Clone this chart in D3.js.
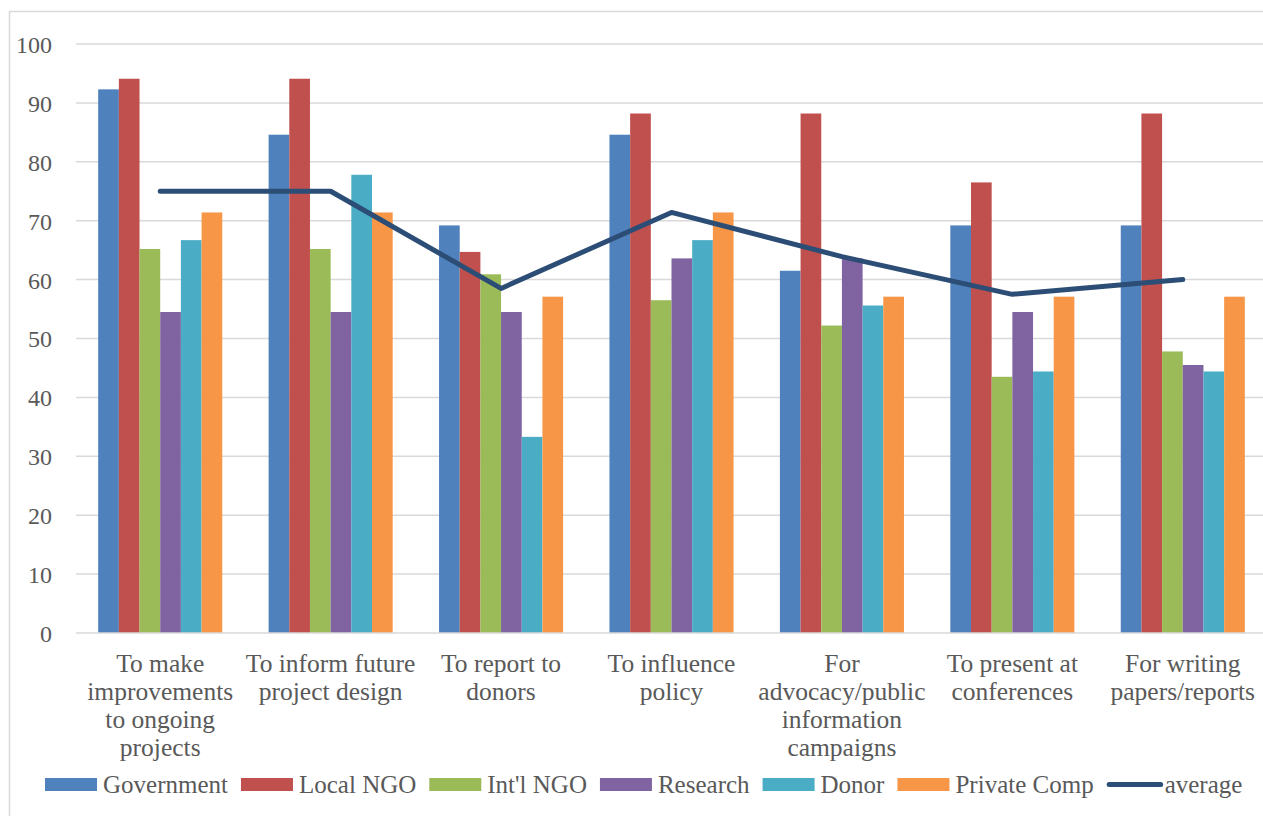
<!DOCTYPE html>
<html>
<head>
<meta charset="utf-8">
<script src="https://cdn.jsdelivr.net/npm/d3@7/dist/d3.min.js"></script>
<style>
  html, body { margin: 0; padding: 0; background: #fff; }
  svg { display: block; }
  text { font-family: "Liberation Serif", "DejaVu Serif", serif; fill: #595959; }
</style>
</head>
<body>
<svg id="chart" width="1263" height="816"></svg>
<script>
// Purposes for which findings are used
const categories = [
  "To make improvements to ongoing projects",
  "To inform future project design",
  "To report to donors",
  "To influence policy",
  "For advocacy/public information campaigns",
  "To present at conferences",
  "For writing papers/reports"
];
// Wrapped label lines for each category
const categoryLines = [
  ["To make", "improvements", "to ongoing", "projects"],
  ["To inform future", "project design"],
  ["To report to", "donors"],
  ["To influence", "policy"],
  ["For", "advocacy/public", "information", "campaigns"],
  ["To present at", "conferences"],
  ["For writing", "papers/reports"]
];

const seriesNames = ["Government", "Local NGO", "Int'l NGO", "Research", "Donor", "Private Comp"];
const seriesColors = ["#4F81BD", "#C0504D", "#9BBB59", "#8064A2", "#4BACC6", "#F79646"];

// Percent of respondents per organisation type
const government = [92.3, 84.6, 69.2, 84.6, 61.5, 69.2, 69.2];
const localNGO   = [94.1, 94.1, 64.7, 88.2, 88.2, 76.5, 88.2];
const intlNGO    = [65.2, 65.2, 60.9, 56.5, 52.2, 43.5, 47.8];
const research   = [54.5, 54.5, 54.5, 63.6, 63.6, 54.5, 45.5];
const donor      = [66.7, 77.8, 33.3, 66.7, 55.6, 44.4, 44.4];
const privateComp= [71.4, 71.4, 57.1, 71.4, 57.1, 57.1, 57.1];
const average    = [75.0, 75.0, 58.5, 71.4, 63.9, 57.5, 60.0];

const yTicks = [0, 10, 20, 30, 40, 50, 60, 70, 80, 90, 100];

const seriesValues = [government, localNGO, intlNGO, research, donor, privateComp];
const lineColor = "#2C4D75";

const svg = d3.select("#chart");

// outer chart frame
svg.append("rect")
  .attr("x", 9.5).attr("y", 11.5)
  .attr("width", 1300).attr("height", 900)
  .attr("fill", "none").attr("stroke", "#d9d9d9").attr("stroke-width", 1.5);

const plot = { left: 75, right: 1268, top: 44, bottom: 633 };

const x = d3.scaleBand().domain(categories).range([plot.left, plot.right]).padding(0);
const y = d3.scaleLinear().domain([0, 100]).range([plot.bottom, plot.top]);

const groupWidth = x.bandwidth() * 0.728;
const xs = d3.scaleBand().domain(seriesNames).range([0, groupWidth]).padding(0);

// gridlines
svg.append("g").selectAll("line")
  .data(yTicks.filter(t => t > 0))
  .join("line")
  .attr("x1", plot.left + 1).attr("x2", 1300)
  .attr("y1", d => y(d)).attr("y2", d => y(d))
  .attr("stroke", "#d9d9d9").attr("stroke-width", 1.5);

// y axis labels
const yAxis = d3.axisLeft(y).tickValues(yTicks).tickSize(0).tickPadding(0);
const yg = svg.append("g").attr("transform", `translate(52,0)`).call(yAxis);
yg.select(".domain").remove();
yg.selectAll("text")
  .attr("font-size", 24)
  .attr("font-family", null)
  .attr("fill", "#595959")
  .attr("dy", "0.35em");

// bars
const groups = svg.append("g").selectAll("g")
  .data(categories)
  .join("g")
  .attr("transform", d => `translate(${x(d) + (x.bandwidth() - groupWidth) / 2},0)`);

groups.selectAll("rect")
  .data((d, i) => seriesNames.map((s, j) => ({ s, j, v: seriesValues[j][i] })))
  .join("rect")
  .attr("x", d => xs(d.s))
  .attr("width", xs.bandwidth())
  .attr("y", d => y(d.v))
  .attr("height", d => y(0) - y(d.v))
  .attr("fill", d => seriesColors[d.j]);

// category axis line
svg.append("line")
  .attr("x1", plot.left + 1).attr("x2", 1300)
  .attr("y1", y(0)).attr("y2", y(0))
  .attr("stroke", "#d9d9d9").attr("stroke-width", 1.5);

// average line
const line = d3.line()
  .x((d, i) => x(categories[i]) + x.bandwidth() / 2)
  .y(d => y(d));
svg.append("path")
  .datum(average)
  .attr("d", line)
  .attr("fill", "none")
  .attr("stroke", lineColor)
  .attr("stroke-width", 5)
  .attr("stroke-linejoin", "round")
  .attr("stroke-linecap", "round");

// category labels
const catLabels = svg.append("g").selectAll("text")
  .data(categories)
  .join("text")
  .attr("text-anchor", "middle")
  .attr("font-size", 25.5)
  .attr("x", d => x(d) + x.bandwidth() / 2)
  .attr("y", 672);
catLabels.each(function (d, i) {
  d3.select(this).selectAll("tspan")
    .data(categoryLines[i])
    .join("tspan")
    .attr("x", x(d) + x.bandwidth() / 2)
    .attr("dy", (t, k) => k === 0 ? 0 : 28)
    .text(t => t);
});

// legend
const legend = svg.append("g").attr("transform", "translate(45,784.5)");
const legendItems = seriesNames.map((s, j) => ({ name: s, color: seriesColors[j], type: "bar" }))
  .concat([{ name: "average", color: lineColor, type: "line" }]);
let cursor = 0;
legendItems.forEach(item => {
  const g = legend.append("g").attr("transform", `translate(${cursor},0)`);
  if (item.type === "bar") {
    g.append("rect").attr("x", 0).attr("y", -6.5).attr("width", 52).attr("height", 13).attr("fill", item.color);
  } else {
    g.append("line").attr("x1", 2.5).attr("x2", 54).attr("y1", 0).attr("y2", 0)
      .attr("stroke", item.color).attr("stroke-width", 5).attr("stroke-linecap", "round");
  }
  const t = g.append("text").attr("x", 58).attr("y", 0).attr("dy", "0.35em")
    .attr("font-size", 25).text(item.name);
  cursor += 58 + t.node().getComputedTextLength() + 13;
});
</script>
</body>
</html>
